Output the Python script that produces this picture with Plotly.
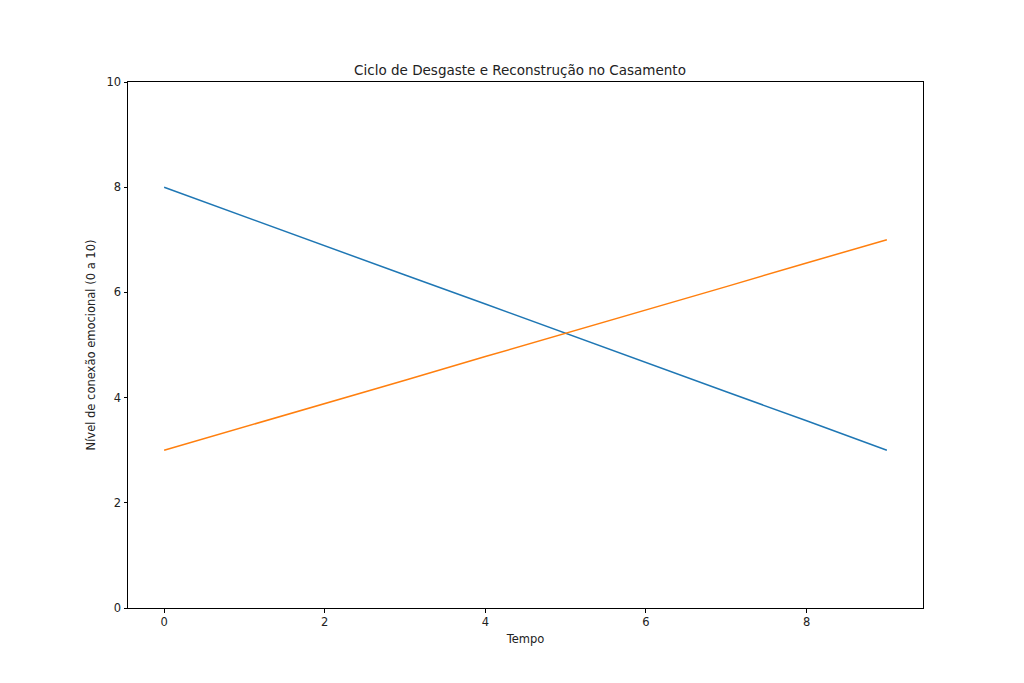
import plotly.graph_objects as go

# data
tempo = [0, 1, 2, 3, 4, 5, 6, 7, 8, 9]
desgaste = [8.0, 7.44, 6.89, 6.33, 5.78, 5.22, 4.67, 4.11, 3.56, 3.0]
reconstrucao = [3.0, 3.44, 3.89, 4.33, 4.78, 5.22, 5.67, 6.11, 6.56, 7.0]

x_ticks = [0, 2, 4, 6, 8]
y_ticks = [0, 2, 4, 6, 8, 10]

fig = go.Figure()
fig.add_trace(go.Scatter(x=tempo, y=desgaste, mode='lines', name='Desgaste',
                         line=dict(color='#1f77b4', width=1.5)))
fig.add_trace(go.Scatter(x=tempo, y=reconstrucao, mode='lines', name='Reconstrução',
                         line=dict(color='#ff7f0e', width=1.5)))

axis_style = dict(showgrid=False, zeroline=False, showline=True, linecolor='black',
                  linewidth=1, mirror=True, ticks='outside', ticklen=3.5,
                  tickcolor='black', tickfont=dict(size=11.5, color='#222'))

# page is drawn with an 8px offset, margins compensate for it
fig.update_layout(
    width=1024, height=683,
    title=dict(text='Ciclo de Desgaste e Reconstrução no Casamento', x=0.5, xanchor='center',
               y=1 - 62 / 683, yanchor='middle', font=dict(size=13.5, color='#222')),
    font=dict(family='DejaVu Sans', color='#222'),
    paper_bgcolor='white', plot_bgcolor='white',
    margin=dict(l=120, r=109, t=74, b=83),
    showlegend=False,
    xaxis=dict(range=[-0.45, 9.45], tickvals=x_ticks,
               title=dict(text='Tempo', font=dict(size=11.5), standoff=6), **axis_style),
    yaxis=dict(range=[0, 10], tickvals=y_ticks,
               title=dict(text='Nível de conexão emocional (0 a 10)', font=dict(size=11.5), standoff=8),
               **axis_style),
)

fig.write_html("out.html")
